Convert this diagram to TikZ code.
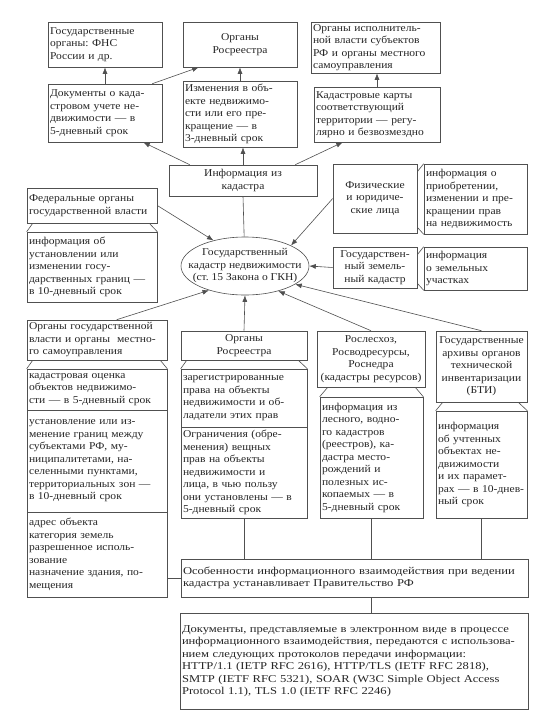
\documentclass[tikz,border=0pt]{standalone}
\usepackage{fontspec}
\setmainfont{Liberation Serif}[FakeStretch=1.1]
\newfontfamily\widefont{Liberation Serif}[FakeStretch=1.2]
\usetikzlibrary{arrows.meta,shapes.geometric,calc}
\definecolor{lc}{HTML}{505050}
\definecolor{tc}{HTML}{262626}
\newcommand\fs{\fontsize{10.5}{12.5}\selectfont\frenchspacing}
\tikzset{
  bx/.style={draw=lc, line width=0.6pt, rectangle, inner xsep=2pt, inner ysep=1pt, font=\fs, text=tc},
  con/.style={draw=lc, line width=0.6pt},
  arr/.style={con, -{Latex[length=6.5pt,width=5pt]}},
}
\newcommand\mybox[7]{\node[bx, align=#6, minimum width={(#4-#2)*1pt}, minimum height={(#5-#3)*1pt}, text width={(#4-#2)*1pt-4pt}] (#1) at ({(#2+#4)/2},{(#3+#5)/2}) {#7};}
\begin{document}
\begin{tikzpicture}[x=1pt,y=-1pt]
\fill[white] (0,0) rectangle (557,713);
\useasboundingbox (0,0) rectangle (557,713);
% top row
\mybox{fns}{48}{22}{162}{67}{left}{Государственные\\органы: ФНС\\России и др.}
\mybox{ros}{183}{22}{297}{67}{center}{Органы\\Росреестра}
\mybox{oi}{311}{22}{440}{73}{left}{Органы исполнитель-\\ной власти субъектов\\РФ и органы местного\\самоуправления}
\mybox{doc}{48}{84}{162}{142}{left}{Документы о када-\\стровом учете не-\\движимости — в\\5-дневный срок}
\mybox{izm}{183}{81}{297}{147}{left}{Изменения в объ-\\екте недвижимо-\\сти или его пре-\\кращение — в\\3-дневный срок}
\mybox{kk}{314}{87}{440}{142}{left}{Кадастровые карты\\соответствующий\\территории — регу-\\лярно и безвозмездно}
\mybox{info}{169}{165}{317}{196}{center}{Информация из\\кадастра}
% middle
\mybox{fed}{27}{188}{157}{223}{left}{Федеральные органы\\государственной власти}
\mybox{fedi}{27}{232}{157}{302}{left}{информация об\\установлении или\\изменении госу-\\дарственных границ —\\в 10-дневный срок}
\mybox{fiz}{333}{164}{417}{233}{center}{Физические\\и юридиче-\\ские лица}
\mybox{fizi}{424}{164}{527}{234}{left}{информация о\\приобретении,\\изменении и пре-\\кращении прав\\на недвижимость}
\mybox{gzk}{333}{247}{417}{288}{center}{Государствен-\\ный земель-\\ный кадастр}
\mybox{gzki}{424}{247}{527}{290}{left}{информация\\о земельных\\участках}
\node[ellipse, draw=lc, line width=0.6pt, minimum width=128pt, minimum height=58pt, inner sep=0pt] (gkn) at (245,266) {};
\node[font=\fs, text=tc, align=center, inner sep=0pt] (gknt) at (gkn.center) {Государственный\\кадастр недвижимости\\(ст. 15 Закона о ГКН)};
% lower
\mybox{ogv}{27}{320}{167}{360}{left}{Органы государственной\\власти и органы \ местно-\\го самоуправления}
\mybox{kad1}{27}{369}{167}{410}{left}{кадастровая оценка\\объектов недвижимо-\\сти — в 5-дневный срок}
\mybox{kad2}{27}{410}{167}{512}{left}{установление или из-\\менение границ между\\субъектами РФ, му-\\ниципалитетами, на-\\селенными пунктами,\\территориальных зон —\\в 10-дневный срок}
\mybox{kad3}{27}{512}{167}{597}{left}{адрес объекта\\категория земель\\разрешенное исполь-\\зование\\назначение здания, по-\\мещения}
\mybox{rosm}{181}{331}{307}{360}{center}{Органы\\Росреестра}
\mybox{rosm1}{181}{369}{307}{427}{left}{зарегистрированные\\права на объекты\\недвижимости и об-\\ладатели этих прав}
\mybox{rosm2}{181}{427}{307}{518}{left}{Ограничения (обре-\\менения) вещных\\прав на объекты\\недвижимости и\\лица, в чью пользу\\они установлены — в\\5-дневный срок}
\mybox{rl}{317}{331}{425}{387}{center}{Рослесхоз,\\Росводресурсы,\\Роснедра\\(кадастры~ресурсов)}
\mybox{rli}{320}{397}{423}{518}{left}{информация из\\лесного, водно-\\го кадастров\\(реестров), ка-\\дастра место-\\рождений и\\полезных ис-\\копаемых — в\\5-дневный срок}
\mybox{bti}{436}{331}{527}{402}{center}{Государственные\\архивы органов\\технической\\инвентаризации\\(БТИ)}
\mybox{btii}{436}{411}{527}{518}{left}{информация\\об учтенных\\объектах не-\\движимости\\и их парамет-\\рах~—~в~10\nobreak-днев-\\ный срок}
\mybox{osob}{181}{559}{528}{597}{left}{\widefont Особенности информационного взаимодействия при ведении\\кадастра устанавливает Правительство РФ}
\mybox{docs}{180}{613}{528}{709}{left}{\widefont Документы, представляемые в электронном виде в процессе\\информационного взаимодействия, передаются с использова-\\нием следующих протоколов передачи информации:\\HTTP/1.1 (IETP RFC 2616), HTTP/TLS (IETF RFC 2818),\\SMTP (IETF RFC 5321), SOAR (W3C Simple Object Access\\Protocol 1.1), TLS 1.0 (IETF RFC 2246)}
% callout joints
\draw[con] ($(fed.south west)+(6,0)$) -- (fedi.north west) ($(fed.south east)+(-8,0)$) -- (fedi.north east);
\draw[con] ($(ogv.south west)+(6,0)$) -- (kad1.north west) ($(ogv.south east)+(-7,0)$) -- (kad1.north east);
\draw[con] ($(rosm.south west)+(6,0)$) -- (rosm1.north west) ($(rosm.south east)+(-9,0)$) -- (rosm1.north east);
\draw[con] ($(rl.south west)+(11,0)$) -- (rli.north west) ($(rl.south east)+(-10,0)$) -- (rli.north east);
\draw[con] ($(bti.south west)+(7,0)$) -- (btii.north west) ($(bti.south east)+(-9,0)$) -- (btii.north east);
\draw[con] ($(fiz.north east)+(0,8)$) -- (fizi.north west) ($(fiz.south east)+(0,-6)$) -- (fizi.south west);
\draw[con] ($(gzk.north east)+(0,8)$) -- (gzki.north west) ($(gzk.south east)+(0,-5)$) -- (gzki.south west);
% top arrows
\draw[arr] (doc.north) -- (fns.south);
\draw[arr] ($(doc.north east)+(-10,0)$) -- ($(ros.south west)+(16,0)$);
\draw[arr] (izm.north) -- (ros.south);
\draw[arr] (kk.north) -- (kk.north |- oi.south);
\draw[arr] ($(info.north west)+(21,0)$) -- ($(doc.south east)+(-19,0)$);
\draw[arr] (info.north) -- (info.north |- izm.south);
\draw[arr] ($(info.north east)+(-22,0)$) -- ($(kk.south west)+(29,0)$);
\draw[con] (info.south) -- (gkn);
% arrows into the ellipse
\draw[arr] (fed.east) -- (gkn.141);
\draw[arr] (fiz.west) -- (gkn.24);
\draw[arr] (gzk.west) -- (gkn.east);
\draw[arr] ($(ogv.north west)+(90,0)$) -- (gkn.214);
\draw[arr] (rosm.north) -- (gkn.south);
\draw[arr] (rl.north) -- (gkn.-37);
\draw[arr] (bti.north) -- (gkn.-20);
% bottom connectors
\draw[con] (rosm2.south) -- (rosm2.south |- osob.north);
\draw[con] (rli.south) -- (rli.south |- osob.north);
\draw[con] (btii.south) -- (btii.south |- osob.north);
\draw[con] (osob.west) -- (osob.west -| kad3.east);
\draw[con] (osob.south -| rli.south) -- (docs.north -| rli.south);
\end{tikzpicture}
\end{document}
